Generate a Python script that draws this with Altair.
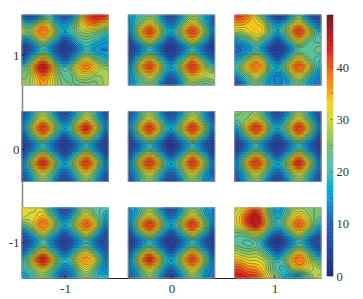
import altair as alt
import numpy as np
import pandas as pd

alt.data_transformers.disable_max_rows()

# Field values: 9 rows x 13 columns per panel, keyed (column, row)
panel_top_left = [
    [ 9, 6, 7,15,20,11, 7,11,24,38,44,45,43],
    [23,17,24,33,27,17,13,19,29,36,39,36,32],
    [31,25,35,39,35,23,17,21,26,28,27,24,20],
    [15,15,23,30,23,15, 8,13,20,22,20,17,15],
    [ 4, 7,13,19,14, 7, 3, 7,13,19,15,13,13],
    [ 7,15,26,34,26,14, 8,14,24,30,25,20,16],
    [20,26,39,46,39,25,19,26,35,38,35,28,26],
    [24,26,34,39,34,26,22,23,29,30,27,27,28],
    [26,27,32,36,32,27,24,23,23,24,24,26,29]]
panel_top_mid = [
    [13,17,21,24,20,11, 6,11,20,24,21,15,10],
    [12,19,26,33,26,17,10,17,26,33,26,17,10],
    [12,23,36,42,36,23,17,23,36,42,36,23,12],
    [ 6,15,24,33,24,15, 8,15,24,33,24,15, 6],
    [ 4, 7,13,18,13, 7, 3, 7,13,18,13, 7, 4],
    [ 6,15,24,33,24,15, 8,15,24,34,25,16,10],
    [12,23,36,42,36,23,17,23,37,43,37,26,20],
    [12,19,26,33,26,17,10,17,27,35,31,28,29],
    [12,17,21,24,20,11, 6,12,21,25,23,22,24]]
panel_top_right = [
    [42,42,38,30,20,10, 4, 6,15,23,12, 6, 6],
    [36,36,34,33,30,19,13,18,27,33,24,14, 9],
    [29,28,32,34,32,23,17,23,36,43,36,24,17],
    [15,18,21,27,21,15, 8,15,24,33,25,21,20],
    [10,11,14,19,14, 7, 3, 7,15,21,21,23,25],
    [14,18,25,33,25,15, 8,15,24,33,25,21,19],
    [19,26,35,39,35,22,17,24,36,41,36,24,17],
    [13,19,25,32,25,16,12,16,26,32,25,16,12],
    [ 6,11,19,23,18,14,13,14,19,23,17,13,11]]
panel_mid_left = [
    [ 7,13,21,25,20,11, 6,11,20,25,21,13, 7],
    [ 9,16,26,33,26,17,10,17,26,33,26,16, 9],
    [12,23,36,43,36,23,17,23,37,44,36,23,12],
    [ 6,15,24,33,24,15, 8,15,24,33,24,15, 6],
    [ 4, 7,13,18,13, 7, 3, 7,13,18,13, 7, 4],
    [ 6,15,24,33,24,15, 8,15,24,33,24,15, 6],
    [12,23,37,44,37,23,17,23,36,43,36,23,12],
    [ 9,16,26,33,26,17,10,17,26,33,26,16, 9],
    [ 6,12,20,25,20,11, 6,11,20,25,20,12, 6]]
panel_mid_mid = [
    [ 7,13,21,25,20,11, 6,11,20,25,21,13, 7],
    [ 9,16,26,33,26,17,10,17,26,33,26,16, 9],
    [12,23,36,43,36,23,17,23,36,43,36,23,12],
    [ 6,15,24,33,24,15, 8,15,24,33,24,15, 6],
    [ 4, 7,13,18,13, 7, 2, 7,13,18,13, 7, 4],
    [ 6,15,24,33,24,15, 8,15,24,33,24,15, 6],
    [12,23,37,43,37,23,17,23,36,43,36,23,12],
    [ 9,16,26,33,26,17,10,17,26,33,26,16, 9],
    [ 7,13,21,25,20,11, 6,11,21,25,20,13,12]]
panel_mid_right = [
    [26,25,24,25,20,11, 6,11,20,25,20,12, 7],
    [23,24,27,33,26,17,10,17,26,33,26,16, 8],
    [14,24,37,43,37,23,17,23,36,43,36,23,12],
    [ 7,15,24,33,24,15, 8,15,24,33,24,15, 6],
    [ 4, 7,13,18,13, 7, 3, 7,13,18,13, 7, 4],
    [ 7,15,24,33,24,15, 8,15,24,33,24,15, 6],
    [12,23,37,43,37,23,17,23,37,44,36,23,12],
    [ 9,16,26,33,26,17,10,17,26,33,26,16, 9],
    [ 7,13,20,25,20,11, 6,11,20,25,20,12, 7]]
panel_bot_left = [
    [31,32,31,28,19,11, 6,11,21,25,22,21,20],
    [32,30,31,34,26,17,10,17,26,33,26,20,15],
    [23,26,35,39,35,23,17,23,35,40,35,23,12],
    [ 9,15,23,31,23,15, 9,15,23,32,23,14, 7],
    [ 5, 8,14,20,14, 8, 4, 8,14,19,13, 7, 6],
    [ 8,15,24,33,24,15, 9,15,24,30,22,14, 8],
    [17,26,39,45,38,24,18,23,34,37,33,22,12],
    [18,22,28,33,27,18,12,16,26,31,25,16,12],
    [14,17,22,25,20,13, 8,13,21,25,21,18,20]]
panel_bot_mid = [
    [13,15,21,25,20,11, 6,11,20,25,21,15,13],
    [11,17,26,33,26,17,10,17,26,33,26,17,12],
    [12,23,37,43,37,23,17,23,37,43,36,23,12],
    [ 6,15,24,33,24,15, 8,15,24,33,24,15, 6],
    [ 4, 7,13,18,13, 7, 3, 7,13,18,13, 7, 4],
    [ 6,15,24,33,24,15, 8,15,24,33,24,15, 6],
    [12,23,37,44,37,23,17,23,36,42,36,23,12],
    [10,16,26,33,26,17,10,17,26,33,26,16,11],
    [ 8,13,20,25,20,11, 5,11,20,25,20,13,12]]
panel_bot_right = [
    [28,31,36,40,33,20,14,18,25,27,26,25,25],
    [30,35,42,46,37,24,16,22,30,34,29,25,23],
    [29,34,42,45,39,26,18,25,35,40,35,24,17],
    [24,24,27,32,26,16,10,15,24,31,23,15,10],
    [22,21,20,21,16, 7, 2, 7,13,19,14, 7, 5],
    [28,26,25,26,22,15, 9,15,24,31,25,15,10],
    [34,33,31,31,29,24,18,24,35,39,35,25,20],
    [41,40,37,36,32,25,20,18,27,32,31,29,27],
    [44,44,43,42,36,30,25,17,13,14,20,27,30]]

panels = [[panel_top_left, panel_top_mid, panel_top_right],
          [panel_mid_left, panel_mid_mid, panel_mid_right],
          [panel_bot_left, panel_bot_mid, panel_bot_right]]
panel_keys = [-1, 0, 1]
row_keys = [1, 0, -1]
x_label_at = [-1, 0, 0.967]
y_label_at = [0.948, -0.03, -1]
bar_ticks = [0, 5, 10, 15, 20, 25, 30, 35, 40, 45]
contour_levels = list(range(1, 50, 2))
color_stops = [0, 5, 10, 15, 20, 25, 30, 33, 35, 40, 43, 45, 50]
color_values = ["#1b2a80", "#2a45a0", "#2a62b4", "#1ba0dc", "#58bfb0", "#80c06c", "#d4d840",
                "#f6d420", "#f7a81c", "#ee5a20", "#e0201c", "#c81e20", "#681a1c"]

HALF_X, HALF_Y = 0.405, 0.363
SUB = 3


def cubic_rows(a, sub):
    """Catmull-Rom smoothing along the first axis, for drawing the contour surface."""
    n = a.shape[0]
    out = []
    for i in range(n - 1):
        p0, p1, p2, p3 = a[max(i - 1, 0)], a[i], a[i + 1], a[min(i + 2, n - 1)]
        for k in range(sub):
            t = k / sub
            out.append(0.5 * (2 * p1 + (p2 - p0) * t + (2 * p0 - 5 * p1 + 4 * p2 - p3) * t ** 2
                              + (3 * p1 - p0 - 3 * p2 + p3) * t ** 3))
    out.append(a[-1])
    return np.array(out)


def surface(grid):
    a = np.array(grid, dtype=float)
    return cubic_rows(cubic_rows(a, SUB).T, SUB).T


cells, segs, frames = [], [], []
for r, key_y in enumerate(row_keys):
    for c, key_x in enumerate(panel_keys):
        f = surface(panels[r][c])
        ny, nx = f.shape
        xs = np.linspace(key_x - HALF_X, key_x + HALF_X, nx)
        ys = np.linspace(key_y + HALF_Y, key_y - HALF_Y, ny)
        frames.append(dict(x=xs[0], x2=xs[-1], y=ys[-1], y2=ys[0]))
        for j in range(ny - 1):
            for i in range(nx - 1):
                q = [f[j, i], f[j, i + 1], f[j + 1, i + 1], f[j + 1, i]]
                cells.append(dict(x=round(xs[i], 4), x2=round(xs[i + 1], 4), y=round(ys[j], 4),
                                  y2=round(ys[j + 1], 4), v=round(float(max(np.mean(q), 0)), 2)))
                px = [xs[i], xs[i + 1], xs[i + 1], xs[i]]
                py = [ys[j], ys[j], ys[j + 1], ys[j + 1]]
                for lev in contour_levels:
                    if min(q) >= lev or max(q) < lev:
                        continue
                    hit = []
                    for e in range(4):
                        g = (e + 1) % 4
                        if (q[e] >= lev) != (q[g] >= lev):
                            t = (lev - q[e]) / (q[g] - q[e])
                            hit.append((px[e] + t * (px[g] - px[e]), py[e] + t * (py[g] - py[e])))
                    for h in range(0, len(hit) - 1, 2):
                        segs.append(dict(x=round(hit[h][0], 4), y=round(hit[h][1], 4),
                                         x2=round(hit[h + 1][0], 4), y2=round(hit[h + 1][1], 4)))

cells = pd.DataFrame(cells)
segs = pd.DataFrame(segs)
frames = pd.DataFrame(frames)

FONT = "Liberation Serif"
cscale = alt.Scale(domain=color_stops, range=color_values)
X0, X1, Y0, Y1 = -1.405, 1.405, -1.363, 1.363
xs_scale = alt.Scale(domain=[X0, X1], nice=False, zero=False)
ys_scale = alt.Scale(domain=[Y0, Y1], nice=False, zero=False)
label_expr = "'' + round(datum.value)"

x_enc = alt.X("x:Q", scale=xs_scale, title=None,
              axis=alt.Axis(values=x_label_at, labelExpr=label_expr, grid=False, tickSize=0, labelPadding=4,
                            labelFont=FONT, labelFontSize=13, labelColor="#333333",
                            domainColor="#222222", domainWidth=1))
y_enc = alt.Y("y:Q", scale=ys_scale, title=None,
              axis=alt.Axis(values=y_label_at, labelExpr=label_expr, grid=False, tickSize=0, labelPadding=3,
                            labelFont=FONT, labelFontSize=13, labelColor="#333333",
                            domainColor="#888888", domainWidth=1.5))

fill = alt.Chart(cells).mark_rect(strokeWidth=1.2).encode(
    x=x_enc, x2="x2:Q", y=y_enc, y2="y2:Q",
    color=alt.Color("v:Q", scale=cscale, legend=None),
    stroke=alt.Stroke("v:Q", scale=cscale, legend=None))
lines = alt.Chart(segs).mark_rule(color="#111111", strokeWidth=0.45, opacity=0.7).encode(
    x=alt.X("x:Q", scale=xs_scale), x2="x2:Q", y=alt.Y("y:Q", scale=ys_scale), y2="y2:Q")
outline = alt.Chart(frames).mark_rect(fillOpacity=0, stroke="#999999", strokeWidth=0.7).encode(
    x=alt.X("x:Q", scale=xs_scale), x2="x2:Q", y=alt.Y("y:Q", scale=ys_scale), y2="y2:Q")
y_ticks = alt.Chart(pd.DataFrame({"y": y_label_at, "a": X0, "b": X0 + 0.025})).mark_rule(
    color="#222222", strokeWidth=1).encode(
    x=alt.X("a:Q", scale=xs_scale), x2="b:Q", y=alt.Y("y:Q", scale=ys_scale))
x_ticks = alt.Chart(pd.DataFrame({"x": x_label_at, "a": Y0, "b": Y0 + 0.025})).mark_rule(
    color="#222222", strokeWidth=1).encode(
    y=alt.Y("a:Q", scale=ys_scale), y2="b:Q", x=alt.X("x:Q", scale=xs_scale))
main = alt.layer(fill, lines, outline, y_ticks, x_ticks).properties(width=299, height=263)

bar_df = pd.DataFrame({"v": np.arange(0, 50, 0.5)})
bar_df["v2"] = bar_df["v"] + 0.5
bar_y = alt.Scale(domain=[0, 50], nice=False, zero=False)
bar = alt.Chart(bar_df).mark_rect(strokeWidth=0.6).encode(
    y=alt.Y("v:Q", scale=bar_y, title=None,
            axis=alt.Axis(orient="right", values=bar_ticks, grid=False, domain=False, tickSize=0,
                          labelPadding=3, labelFont=FONT, labelFontSize=12.5, labelColor="#333333")),
    y2="v2:Q", x=alt.value(0), x2=alt.value(6),
    color=alt.Color("v:Q", scale=cscale, legend=None),
    stroke=alt.Stroke("v:Q", scale=cscale, legend=None))
bar_marks = alt.Chart(pd.DataFrame({"t": bar_ticks})).mark_rule(color="#222222", strokeWidth=0.6, opacity=0.6).encode(
    y=alt.Y("t:Q", scale=bar_y), x=alt.value(3), x2=alt.value(6))
colorbar = alt.layer(bar, bar_marks).properties(width=6, height=261)

chart = alt.hconcat(main, colorbar, spacing=4).properties(
    padding={"left": 0, "top": 6, "right": 0, "bottom": 0}, background="white"
).configure_view(stroke=None).configure_concat(spacing=4)

chart.save("out.html", embed_options={"renderer": "svg", "actions": False})
